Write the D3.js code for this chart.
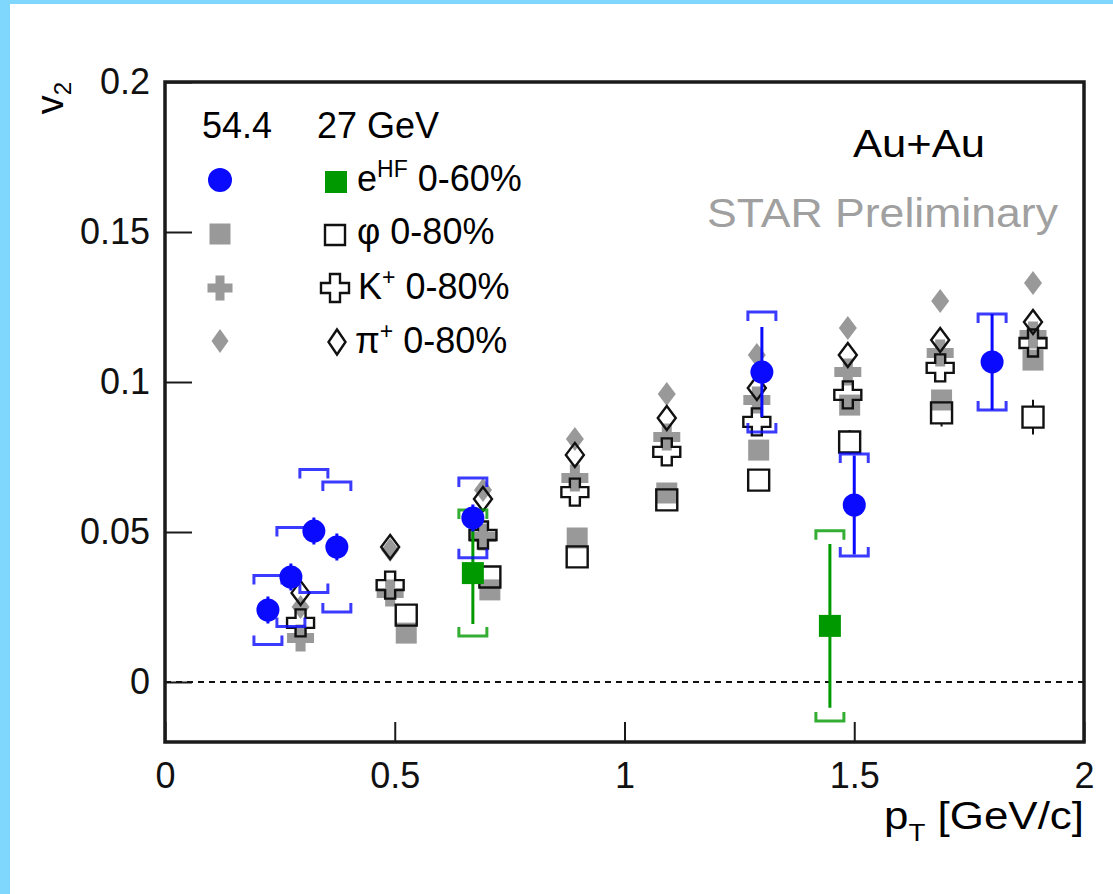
<!DOCTYPE html>
<html>
<head>
<meta charset="utf-8">
<script src="https://cdn.jsdelivr.net/npm/d3@7"></script>
<style>
body { margin: 0; background: #fff; }
text { font-family: "Liberation Sans", Arial, sans-serif; }
</style>
</head>
<body>
<div id="viz"></div>
<script>
var width = 1113,
  height = 894;

// pT bins
var ptPiK = [0.295, 0.49, 0.692, 0.892, 1.092, 1.288, 1.486, 1.687, 1.889];
var ptPhi = [0.525, 0.707, 0.897, 1.092, 1.292, 1.49, 1.69, 1.889];
var ptE54 = [0.224, 0.274, 0.324, 0.374, 0.670, 1.299, 1.50, 1.80];
var ptE27 = [0.670, 1.447];

// v2 values, 54.4 GeV (grey filled) and 27 GeV (open)
var pi54 = [0.025, 0.044, 0.064, 0.081, 0.096, 0.109, 0.118, 0.127, 0.133];
var pi27 = [0.0297, 0.045, 0.061, 0.0757, 0.088, 0.098, 0.109, 0.114, 0.12];
var k54 = [0.0147, 0.0297, 0.0483, 0.068, 0.0817, 0.094, 0.1033, 0.1097, 0.1157];
var k27 = [0.0197, 0.0323, 0.049, 0.0633, 0.0767, 0.0867, 0.0957, 0.1047, 0.113];
var phi54 = [0.0163, 0.0307, 0.048, 0.063, 0.0773, 0.0923, 0.094, 0.1073];
var phi27 = [0.0223, 0.035, 0.0417, 0.0607, 0.0673, 0.08, 0.0897, 0.0883];
var phi27Stat = [0.003, 0.003, 0.003, 0.003, 0.003, 0.004, 0.0045, 0.0058];

// heavy flavour electrons
var e54 = [0.024, 0.035, 0.0503, 0.045, 0.0547, 0.1033, 0.059, 0.1067];
var e54Stat = [0.0045, 0.0045, 0.0045, 0.0045, 0.0045, 0.015, 0.0165, 0.016];
var e54Sys = [0.0115, 0.0165, 0.0205, 0.0217, 0.0133, 0.02, 0.017, 0.016];
var e27 = [0.0363, 0.0187];
var e27Stat = [0.017, 0.0273];
var e27Sys = [0.021, 0.0317];

var xTicks = [0, 0.5, 1, 1.5, 2];
var yTicks = [0, 0.05, 0.1, 0.15, 0.2];

var blue = '#0a0aff',
  green = '#009a00',
  grey = '#999999',
  frameColor = '#1a1a1a';

var svg = d3.select('#viz').append('svg')
  .attr('width', width)
  .attr('height', height);

svg.append('rect').attr('width', width).attr('height', height).attr('fill', '#fff');
svg.append('rect').attr('width', 10).attr('height', height).attr('fill', '#7fd7fe');
svg.append('rect').attr('width', width).attr('height', 4).attr('fill', '#7fd7fe');

var x = d3.scaleLinear().domain([0, 2]).range([165, 1084]);
var y = d3.scaleLinear().domain([-0.02, 0.2]).range([742, 82]);

// axes
var yAxis = svg.append('g')
  .attr('transform', 'translate(' + x(0) + ',0)')
  .call(d3.axisLeft(y).tickValues(yTicks).tickSize(-27).tickPadding(15)
    .tickFormat(function (d) { return String(d); }));
var xAxis = svg.append('g')
  .attr('transform', 'translate(0,' + y(-0.02) + ')')
  .call(d3.axisBottom(x).tickValues(xTicks).tickSize(-20).tickPadding(20)
    .tickFormat(function (d) { return String(d); }));
[xAxis, yAxis].forEach(function (g) {
  g.select('.domain').remove();
  g.selectAll('line').attr('stroke', frameColor).attr('stroke-width', 2);
  g.selectAll('text').attr('font-size', 36).attr('fill', '#111')
    .attr('font-family', '"Liberation Sans", Arial, sans-serif');
});

// zero line
svg.append('line')
  .attr('x1', x(0)).attr('x2', x(2))
  .attr('y1', y(0)).attr('y2', y(0))
  .attr('stroke', '#111').attr('stroke-width', 2)
  .attr('stroke-dasharray', '6,5');

// marker shapes
function crossPath(s, t) {
  var a = s / 2, b = t / 2;
  return 'M' + (-b) + ',' + (-a) + 'H' + b + 'V' + (-b) + 'H' + a + 'V' + b + 'H' + b +
    'V' + a + 'H' + (-b) + 'V' + b + 'H' + (-a) + 'V' + (-b) + 'H' + (-b) + 'Z';
}
function diamondPath(w, h) {
  return 'M0,' + (-h) + 'L' + w + ',0L0,' + h + 'L' + (-w) + ',0Z';
}
function squarePath(s) {
  var a = s / 2;
  return 'M' + (-a) + ',' + (-a) + 'H' + a + 'V' + a + 'H' + (-a) + 'Z';
}

var shapes = {
  square: squarePath(21),
  cross: crossPath(27, 10),
  diamond: diamondPath(9, 12)
};

function drawMarkers(pts, vals, shape, filled) {
  svg.append('g').selectAll('path')
    .data(vals)
    .enter().append('path')
    .attr('transform', function (d, i) { return 'translate(' + x(pts[i]) + ',' + y(d) + ')'; })
    .attr('d', shapes[shape])
    .attr('fill', filled ? grey : 'none')
    .attr('stroke', filled ? 'none' : '#111')
    .attr('stroke-width', filled ? 0 : 2.4);
}

// error bar drawn outside the marker (gap = half marker size)
function drawStat(pts, vals, errs, color, w, gap) {
  var g = svg.append('g');
  vals.forEach(function (d, i) {
    var cx = x(pts[i]), cy = y(d), yt = y(d + errs[i]), yb = y(d - errs[i]);
    var p = '';
    if (cy - yt > gap) p += 'M' + cx + ',' + yt + 'V' + (cy - gap);
    if (yb - cy > gap) p += 'M' + cx + ',' + (cy + gap) + 'V' + yb;
    if (p) g.append('path').attr('d', p).attr('stroke', color).attr('stroke-width', w);
  });
}

function drawSys(pts, vals, errs, color) {
  var hw = 14, leg = 9;
  var g = svg.append('g');
  vals.forEach(function (d, i) {
    var cx = x(pts[i]), yt = y(d + errs[i]), yb = y(d - errs[i]);
    g.append('path')
      .attr('d', 'M' + (cx - hw) + ',' + (yt + leg) + 'V' + yt + 'H' + (cx + hw) + 'V' + (yt + leg) +
        'M' + (cx - hw) + ',' + (yb - leg) + 'V' + yb + 'H' + (cx + hw) + 'V' + (yb - leg))
      .attr('fill', 'none').attr('stroke', color).attr('stroke-width', 3)
      .attr('opacity', 0.8);
  });
}

// hadrons
drawStat(ptPhi, phi27, phi27Stat, '#111', 2, 10.5);
drawMarkers(ptPiK, pi54, 'diamond', true);
drawMarkers(ptPiK, k54, 'cross', true);
drawMarkers(ptPhi, phi54, 'square', true);
drawMarkers(ptPiK, pi27, 'diamond', false);
drawMarkers(ptPiK, k27, 'cross', false);
drawMarkers(ptPhi, phi27, 'square', false);

// 27 GeV electrons
drawSys(ptE27, e27, e27Sys, green);
drawStat(ptE27, e27, e27Stat, green, 3, 0);
svg.append('g').selectAll('path')
  .data(e27)
  .enter().append('path')
  .attr('transform', function (d, i) { return 'translate(' + x(ptE27[i]) + ',' + y(d) + ')'; })
  .attr('d', squarePath(22))
  .attr('fill', green);

// 54.4 GeV electrons
drawSys(ptE54, e54, e54Sys, blue);
drawStat(ptE54, e54, e54Stat, blue, 3, 0);
svg.append('g').selectAll('circle')
  .data(e54)
  .enter().append('circle')
  .attr('cx', function (d, i) { return x(ptE54[i]); })
  .attr('cy', function (d) { return y(d); })
  .attr('r', 11.5)
  .attr('fill', blue);

// frame
svg.append('rect')
  .attr('x', x(0)).attr('y', y(0.2))
  .attr('width', x(2) - x(0)).attr('height', y(-0.02) - y(0.2))
  .attr('fill', 'none').attr('stroke', frameColor).attr('stroke-width', 3.5);

// legend
var fs = 36;
svg.append('text').attr('x', 202).attr('y', 138).attr('font-size', fs).text('54.4');
svg.append('text').attr('x', 317).attr('y', 138).attr('font-size', fs).text('27 GeV');

svg.append('circle').attr('cx', 220).attr('cy', 180).attr('r', 12).attr('fill', blue);
svg.append('path').attr('transform', 'translate(336,182)').attr('d', squarePath(22)).attr('fill', green);
svg.append('path').attr('transform', 'translate(220,234)').attr('d', squarePath(21)).attr('fill', grey);
svg.append('path').attr('transform', 'translate(335,235)').attr('d', squarePath(20))
  .attr('fill', 'none').attr('stroke', '#111').attr('stroke-width', 2.4);
svg.append('path').attr('transform', 'translate(220,288)').attr('d', crossPath(25, 9)).attr('fill', grey);
svg.append('path').attr('transform', 'translate(335,288)').attr('d', crossPath(28, 10))
  .attr('fill', 'none').attr('stroke', '#111').attr('stroke-width', 2.4);
svg.append('path').attr('transform', 'translate(220,341)').attr('d', diamondPath(8.5, 12)).attr('fill', grey);
svg.append('path').attr('transform', 'translate(337,342)').attr('d', diamondPath(8.5, 12.5))
  .attr('fill', 'none').attr('stroke', '#111').attr('stroke-width', 2.4);

function legendLabel(xp, yp, base, sup, rest) {
  var t = svg.append('text').attr('x', xp).attr('y', yp).attr('font-size', fs);
  t.append('tspan').text(base);
  if (sup) {
    t.append('tspan').attr('font-size', 23).attr('dy', -14).text(sup);
    t.append('tspan').attr('dy', 14).text(rest);
  } else {
    t.append('tspan').text(rest);
  }
}
legendLabel(357, 191, 'e', 'HF', ' 0-60%');
legendLabel(357, 244, 'φ', null, ' 0-80%');
legendLabel(358, 299, 'K', '+', ' 0-80%');
legendLabel(355, 353, 'π', '+', ' 0-80%');

svg.append('text').attr('x', 853).attr('y', 157)
  .attr('font-size', 38).attr('textLength', 132).attr('lengthAdjust', 'spacingAndGlyphs')
  .text('Au+Au');
svg.append('text').attr('x', 707).attr('y', 227)
  .attr('font-size', 40).attr('textLength', 351).attr('lengthAdjust', 'spacingAndGlyphs')
  .attr('fill', '#a0a0a0').text('STAR Preliminary');

// axis titles
var xt = svg.append('text').attr('x', 884).attr('y', 829).attr('font-size', 38)
  .attr('textLength', 200).attr('lengthAdjust', 'spacingAndGlyphs');
xt.append('tspan').text('p');
xt.append('tspan').attr('font-size', 24).attr('dy', 12).text('T');
xt.append('tspan').attr('dy', -12).text(' [GeV/c]');

var yt = svg.append('text').attr('transform', 'translate(63,82) rotate(-90)')
  .attr('text-anchor', 'end').attr('font-size', 38);
yt.append('tspan').text('v');
yt.append('tspan').attr('font-size', 24).attr('dy', 8).text('2');
</script>
</body>
</html>
